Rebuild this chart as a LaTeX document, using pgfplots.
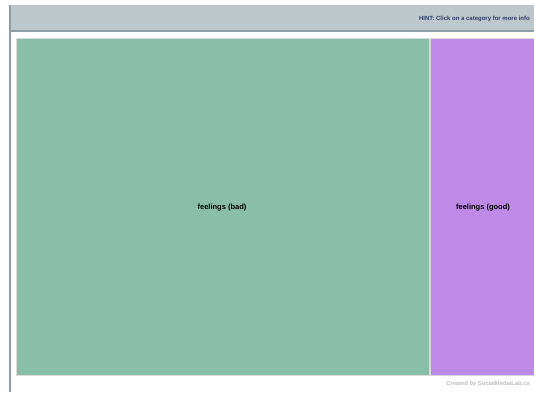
\documentclass[border=0pt]{standalone}
\usepackage{pgfplots}
\pgfplotsset{compat=1.18}
\usepackage{fontspec}
\setmainfont{Liberation Sans}
\definecolor{badgreen}{HTML}{89BEAA}
\definecolor{goodpurple}{HTML}{BF89E6}
\definecolor{headgray}{HTML}{BEC7CB}
\definecolor{edgegray}{HTML}{8E9EA8}
\definecolor{hintblue}{HTML}{2B3F63}

\begin{document}
\begin{tikzpicture}
\begin{axis}[
    width=534pt, height=392pt,
    scale only axis,
    xmin=0, xmax=534, ymin=0, ymax=392,
    y dir=reverse,
    axis lines=none,
    clip=true,
]
% full page frame (invisible) so the picture keeps 534x392
\addplot[draw=none, fill=white] coordinates {(0,0) (534,0) (534,392) (0,392)} --cycle;
% header bar
\addplot[fill=headgray, draw=none] coordinates {(10,5) (534,5) (534,31) (10,31)} --cycle;
\addplot[draw=edgegray!60, line width=1.2pt] coordinates {(10,6) (534,6)};
\addplot[draw=edgegray, line width=2pt] coordinates {(10,31) (534,31)};
\addplot[draw=edgegray, line width=2pt] coordinates {(10,5) (10,392)};
% treemap cells: feelings (bad) / feelings (good)
\addplot[fill=badgreen, draw=black!15, line width=0.6pt] coordinates {(16,38.5) (429,38.5) (429,375) (16,375)} --cycle;
\addplot[fill=goodpurple, draw=black!15, line width=0.6pt] coordinates {(430,38.5) (540,38.5) (540,375) (430,375)} --cycle;
\node[font=\bfseries\fontsize{7.5}{9}\selectfont] at (axis cs:222,208) {feelings (bad)};
\node[font=\bfseries\fontsize{7.5}{9}\selectfont] at (axis cs:483,208) {feelings (good)};
\node[font=\bfseries\fontsize{6}{7}\selectfont, text=hintblue, anchor=east, inner sep=0pt] at (axis cs:530,18.5) {HINT: Click on a category for more info};
\node[font=\bfseries\fontsize{5.8}{7}\selectfont, text=black!25, anchor=east, inner sep=0pt] at (axis cs:530,383.5) {Created by SocialMediaLab.ca};
\end{axis}
\end{tikzpicture}
\end{document}
